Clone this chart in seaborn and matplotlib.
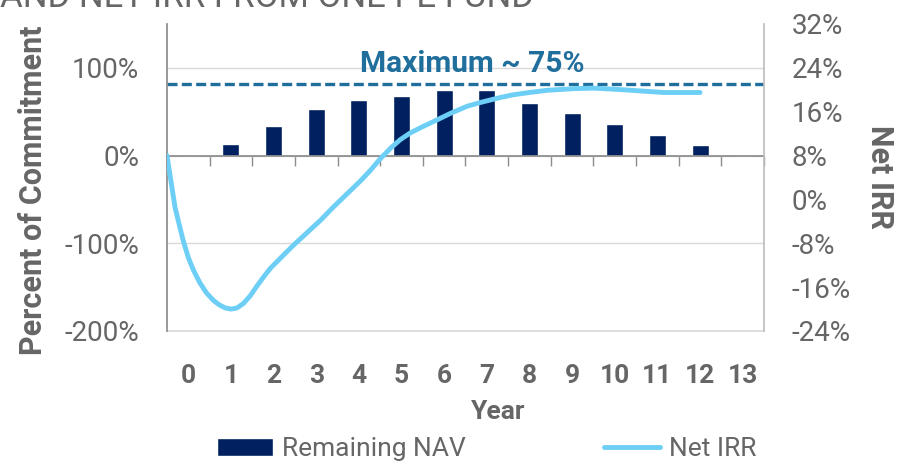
import pandas as pd
import matplotlib.pyplot as plt
import seaborn as sns

# Remaining NAV (% of commitment) by year
years = list(range(14))
nav = [0, 13, 34, 53, 63, 68, 75, 75, 60, 48, 36, 24, 12, 0]

# Net IRR curve (x in years, value in %)
irr_x = [-0.5, -0.4, -0.31, -0.2, -0.12, 0.0, 0.12, 0.27, 0.43, 0.6, 0.74, 0.87,
         1.0, 1.14, 1.29, 1.45, 1.6, 1.76, 1.92, 2.2, 2.46, 2.78, 3.1, 3.4,
         3.72, 4.04, 4.27, 4.5, 4.75, 4.97, 5.2, 5.45, 5.75, 6.15, 6.54, 6.86,
         7.32, 7.63, 8.0, 8.41, 9.04, 9.5, 9.98, 10.4, 10.76, 11.15, 11.54, 12.0]
irr = [8.0, 3.0, -1.5, -5.0, -7.5, -10.6, -12.9, -15.2, -17.1, -18.5, -19.3, -19.8,
       -20.0, -19.8, -19.0, -17.6, -15.9, -14.2, -12.6, -10.4, -8.4, -6.1, -3.8, -1.4,
       1.0, 3.4, 5.3, 7.4, 9.4, 10.9, 12.1, 13.1, 14.2, 15.7, 17.0, 17.7,
       18.6, 19.1, 19.5, 19.9, 20.2, 20.3, 20.1, 19.9, 19.7, 19.5, 19.5, 19.5]

max_line = 82
left_ticks = [-200, -100, 0, 100]
right_ticks = [-24, -16, -8, 0, 8, 16, 24, 32]

navy = '#002060'
light_blue = '#6dcff6'
steel = '#1f6e9c'
grey = '#666666'

sns.set_theme(style='white')
plt.rcParams['font.family'] = ['Roboto', 'DejaVu Sans']

df = pd.DataFrame({'Year': years, 'Remaining NAV': nav})
df_irr = pd.DataFrame({'x': irr_x, 'Net IRR': irr})

fig = plt.figure(figsize=(9.13, 4.61), dpi=100)
ax = fig.add_axes([0.1829, 0.282, 0.6539, 0.666])

sns.barplot(data=df, x='Year', y='Remaining NAV', color=navy, saturation=1,
            width=0.4, ax=ax, label='Remaining NAV')
if ax.get_legend() is not None:
    ax.get_legend().remove()
ax.set_xlim(-0.5, 13.5)
ax.set_ylim(-200, 150)
ax.set_yticks(left_ticks)
ax.set_yticklabels([f'{v}%' for v in left_ticks])
ax.yaxis.grid(True, color='#d9d9d9', lw=1)
ax.set_axisbelow(True)
ax.tick_params(axis='y', length=0, pad=20, labelsize=20, labelcolor=grey)

# category axis drawn on the zero line, tick marks between categories
ax.spines['bottom'].set_position(('data', 0))
ax.spines['bottom'].set_color('#8c8c8c')
ax.set_xticks([i + 0.5 for i in range(-1, 14)], minor=True)
ax.tick_params(axis='x', which='major', length=0, labelbottom=False)
ax.tick_params(axis='x', which='minor', bottom=True, length=7, width=1, color='#8c8c8c')
ax.spines['left'].set_color('#8c8c8c')
ax.spines['top'].set_visible(False)
ax.spines['right'].set_visible(False)

sec = ax.secondary_xaxis('bottom')
sec.set_xticks(years)
sec.set_xticklabels([str(y) for y in years])
sec.tick_params(length=0, pad=24, labelsize=19, labelcolor=grey)
for lab in sec.get_xticklabels():
    lab.set_fontweight('bold')
sec.spines['bottom'].set_color('#d9d9d9')

ax.set_xlabel('Year', fontsize=19, fontweight='bold', color=grey)
ax.xaxis.set_label_coords(0.554, -0.225)
ax.set_ylabel('Percent of Commitment', fontsize=22, fontweight='bold', color=grey)
ax.yaxis.set_label_coords(-0.2, 0.46)

ax.axhline(max_line, color=steel, lw=2.4, ls=(0, (3, 1.3)))
ax.text(6.66, 104, 'Maximum ~ 75%', ha='center', va='center', fontsize=21.5,
        fontweight='bold', color=steel)

ax2 = ax.twinx()
sns.lineplot(data=df_irr, x='x', y='Net IRR', sort=False, color=light_blue, lw=3.5,
             ax=ax2, label='Net IRR', legend=False, solid_capstyle='round',
             solid_joinstyle='round')
ax2.set_xlim(-0.5, 13.5)
ax2.set_ylim(-24, 32)
ax2.set_yticks(right_ticks)
ax2.set_yticklabels([f'{v}%' for v in right_ticks])
ax2.tick_params(axis='y', length=0, pad=20, labelsize=20, labelcolor=grey)
ax2.set_ylabel('Net IRR', rotation=270, fontsize=22, fontweight='bold', color=grey)
ax2.yaxis.set_label_coords(1.22, 0.5)
ax2.set_xlabel('')
for s in ['top', 'left', 'bottom']:
    ax2.spines[s].set_visible(False)
ax2.spines['right'].set_color('#bfbfbf')

h1, l1 = ax.get_legend_handles_labels()
h2, l2 = ax2.get_legend_handles_labels()
fig.legend(h1[:1] + h2, l1[:1] + l2, loc='center', bbox_to_anchor=(0.533, 0.026),
           ncol=2, frameon=False, fontsize=19, handlelength=2.1, handletextpad=0.35,
           columnspacing=5.25, labelcolor=grey)

fig.text(0.0, 1 - 7 / 461, 'AND NET IRR FROM ONE PE FUND', fontsize=25, color=grey,
         va='baseline', ha='left')

fig.savefig('out.png', dpi=100)
